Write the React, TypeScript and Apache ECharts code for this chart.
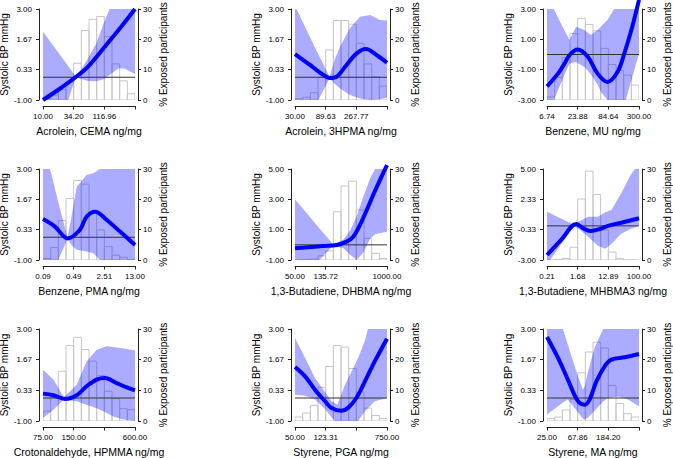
import React, { useEffect, useRef } from "react";
import * as echarts from "echarts";

const FONT = "'Liberation Sans', Arial, Helvetica, sans-serif";

// ---- texts ----
const xTitles = [
  "Acrolein, CEMA ng/mg",
  "Acrolein, 3HPMA ng/mg",
  "Benzene, MU ng/mg",
  "Benzene, PMA ng/mg",
  "1,3-Butadiene, DHBMA ng/mg",
  "1,3-Butadiene, MHBMA3 ng/mg",
  "Crotonaldehyde, HPMMA ng/mg",
  "Styrene, PGA ng/mg",
  "Styrene, MA ng/mg",
];
const xTickLabels = [
  ["10.00", "34.20", "116.96", ""],
  ["30.00", "89.63", "267.77", ""],
  ["6.74", "23.88", "84.64", "300.00"],
  ["0.09", "0.49", "2.51", "13.00"],
  ["50.00", "135.72", "", "1000.00"],
  ["0.21", "1.68", "12.89", "100.00"],
  ["75.00", "150.00", "", "600.00"],
  ["50.00", "123.31", "", "750.00"],
  ["25.00", "67.86", "184.20", ""],
];
const yTicks = [
  [-1, 0.3333, 1.6667, 3],
  [-1, 0.3333, 1.6667, 3],
  [-3, -1, 1, 3],
  [-1, 0.3333, 1.6667, 3],
  [-1, 1, 3, 5],
  [-3, -0.3333, 2.3333, 5],
  [-1, 0.3333, 1.6667, 3],
  [-1, 0.3333, 1.6667, 3],
  [-1, 0.3333, 1.6667, 3],
];
const pctTicks = [0, 10, 20, 30];
const leftTitle = "Systolic BP mmHg";
const rightTitle = "% Exposed participants";

// ---- histograms (% exposed participants, 12 bins per panel) ----
const hist1 = [0.5, 1.6, 3.5, 6, 12.1, 22.9, 26.6, 27.5, 20.9, 11.9, 6.3, 2.1];
const hist2 = [0.4, 0.9, 2.4, 7.5, 16.5, 26.2, 26.2, 25, 18.7, 11.9, 7.7, 4.6];
const hist3 = [1, 7.4, 14, 21.9, 26.9, 24.9, 22.8, 17, 11.7, 9.8, 8.2, 4.9];
const hist4 = [0.5, 4.1, 13, 20.3, 26.2, 25, 15.9, 9.9, 4.4, 1.6, 0.9, 0.2];
const hist5 = [0, 0.2, 0.3, 1.4, 3, 15.9, 24.4, 26, 16.5, 7.1, 2.2, 0.5];
const hist6 = [0, 0.2, 0.5, 4.2, 20.1, 29.3, 21.6, 9.9, 2.6, 0.5, 0, 0];
const hist7 = [3.2, 7.7, 16.2, 24.6, 27.3, 23.3, 19.5, 14.8, 9.7, 7.3, 4, 3.7];
const hist8 = [1.3, 2.6, 5.1, 11, 17.8, 24.6, 24.1, 17.1, 9.5, 4.2, 1.8, 0.8];
const hist9 = [0.8, 1.3, 3.6, 7, 15.7, 22.5, 25.7, 23.8, 11.6, 5.7, 2.4, 1.3];

// ---- fitted curves [tick position, mmHg] ----
const curve1 = [[0, -1], [0.5, -0.55], [1.06, 0], [1.47, 0.47], [2.0, 1.32], [2.55, 2.22], [3, 3]];
const curve2 = [[0, 1.02], [0.49, 0.54], [0.82, 0.2], [1.14, -0.03], [1.36, 0.03], [1.68, 0.54], [2.01, 1.05], [2.31, 1.24], [2.66, 0.98], [3, 0.64]];
const curve3 = [[0, -2.1], [0.36, -1.26], [0.57, -0.6], [0.75, 0], [1.0, 0.33], [1.33, -0.15], [1.65, -1.26], [1.97, -1.81], [2.3, -1.15], [2.51, 0], [2.78, 1.83], [3, 3.6]];
const curve4 = [[0, 0.8], [0.39, 0.47], [0.8, -0.05], [1.2, 0.32], [1.42, 0.9], [1.7, 1.12], [2.08, 0.76], [2.51, 0.25], [3, -0.34]];
const curve5 = [[0, -0.23], [0.92, -0.08], [1.36, -0.01], [1.68, 0.21], [1.9, 0.54], [2.12, 1.31], [2.34, 2.3], [2.55, 3.29], [2.77, 4.27], [3, 5.26]];
const curve6 = [[0, -2.56], [0.47, -1.2], [0.96, 0.17], [1.17, -0.2], [1.42, -0.45], [1.7, -0.3], [1.99, 0], [2.42, 0.28], [3, 0.67]];
const curve7 = [[0, 0.19], [0.34, 0.12], [0.72, -0.04], [1.1, 0.12], [1.42, 0.51], [1.75, 0.8], [2.02, 0.87], [2.4, 0.65], [2.73, 0.46], [3, 0.33]];
const curve8 = [[0, 1.35], [0.33, 0.94], [0.65, 0.36], [0.98, -0.14], [1.19, -0.43], [1.52, -0.55], [1.73, -0.43], [2.0, 0], [2.28, 0.72], [2.6, 1.59], [3, 2.58]];
const curve9 = [[0, 2.65], [0.36, 1.74], [0.68, 0.8], [1.01, -0.14], [1.23, -0.29], [1.39, -0.07], [1.61, 0.72], [1.88, 1.38], [2.1, 1.67], [2.53, 1.77], [3, 1.91]];

// ---- 95% confidence bands [tick position, lower, upper] ----
const band1 = [[0, -1, 2.0], [0.82, -1, 0.49], [1.07, -0.01, 0.02], [1.3, -0.1, 0.45], [1.47, -0.16, 0.83], [1.74, -0.18, 1.49], [2.0, -0.08, 2.44], [2.17, 0.1, 3], [2.45, 0.39, 3], [2.66, 0.39, 3], [3, 0.14, 3]];
const band2 = [[0, -1, 3], [0.05, -1, 3], [0.76, -1, 1.0], [1.13, -0.04, 0.02], [1.3, -0.3, 0.8], [1.47, -0.49, 1.34], [1.79, -0.78, 2.15], [2.12, -0.93, 2.66], [2.45, -1, 2.74], [2.77, -0.97, 2.52], [3, -0.9, 2.49]];
const band3 = [[0, -3, 3], [0.22, -3, 3], [0.5, -1.68, 1.87], [0.73, -0.6, 0.95], [0.95, -0.49, 1.83], [1.22, -0.82, 1.61], [1.43, -1.3, 1.28], [1.65, -2.0, 1.61], [1.76, -2.47, 1.85], [1.97, -3, 2.27], [2.19, -3, 3], [2.57, -3, 3], [3, 0.07, 3]];
const band4 = [[0, -1, 3], [0.23, -1, 3], [0.5, -1, 1.53], [0.8, -0.07, 0.0], [0.93, -0.34, 0.9], [1.1, -0.55, 2.22], [1.42, -0.63, 2.74], [1.64, -0.7, 2.81], [1.86, -1, 3], [3, -1, 3]];
const band5 = [[0, -1, 3.0], [0.8, -1, 1.08], [1.25, -0.02, 0.02], [1.58, -0.23, 0.35], [1.8, -0.65, 0.95], [2.01, -1, 1.86], [2.23, -0.5, 3.18], [2.45, 0.4, 4.38], [2.61, 0.7, 5], [3, 0.87, 5]];
const band6 = [[0, -3, 1.25], [0.1, -3, 1.12], [0.88, -0.02, 0.1], [1.05, -0.3, 0.4], [1.34, -0.95, 0.81], [1.66, -1.75, 0.81], [1.9, -2.0, 1.2], [2.1, -1.6, 1.4], [2.42, -0.7, 2.87], [2.7, -0.3, 4.33], [2.86, -0.15, 5], [3, 0.05, 5]];
const band7 = [[0, -0.87, 1.23], [0.34, -0.51, 0.8], [0.68, -0.07, 0.03], [1.1, -0.14, 0.58], [1.42, -0.29, 1.59], [1.75, -0.45, 2.1], [2.08, -0.65, 2.25], [2.29, -0.8, 2.22], [2.62, -0.94, 2.15], [3, -1, 2.06]];
const band8 = [[0, 0.14, 2.61], [0.33, 0.1, 1.74], [0.65, -0.05, 0.87], [0.98, -0.48, 0.26], [1.2, -0.85, -0.15], [1.3, -1, -0.22], [1.38, -1, -0.29], [1.63, -1, 0.58], [2.06, -1, 1.74], [2.28, -0.58, 2.5], [2.38, -0.45, 3], [2.6, -0.14, 3], [3, 0, 3]];
const band9 = [[0, -0.72, 3], [0.52, -0.2, 3], [0.68, -0.07, 2.32], [1.01, -0.62, 0.94], [1.17, -0.9, 0.36], [1.23, -0.94, 0.5], [1.34, -0.85, 1.16], [1.55, -0.55, 2.17], [1.83, -0.15, 3], [1.99, 0, 3], [2.32, 0.07, 3], [2.64, -0.07, 3], [3, -0.36, 3]];

const hists = [hist1, hist2, hist3, hist4, hist5, hist6, hist7, hist8, hist9];
const curves = [curve1, curve2, curve3, curve4, curve5, curve6, curve7, curve8, curve9];
const bands = [band1, band2, band3, band4, band5, band6, band7, band8, band9];

// ---- layout & style ----
const colLeft = [43, 295, 547];
const rowTop = [9, 169, 329];
const rowHeight = [91, 91, 92];
const PW = 92;
const BIN = 3 / 12;
const AXIS = "#222";
const TXT = "#000";
const BAND = "rgba(0,0,255,0.33)";

function buildOption() {
  const grid: any[] = [];
  const xAxis: any[] = [];
  const yAxis: any[] = [];
  const series: any[] = [];
  for (let i = 0; i < 9; i++) {
    const c = i % 3;
    const r = Math.floor(i / 3);
    grid.push({ left: colLeft[c], top: rowTop[r], width: PW, height: rowHeight[r], outerBoundsMode: "none", containLabel: false });
    const labels = xTickLabels[i];
    xAxis.push({
      gridIndex: i, type: "value", min: 0, max: 3, interval: 1, position: "bottom", offset: 6,
      axisLine: { show: true, onZero: false, lineStyle: { color: AXIS, width: 1 } },
      axisTick: { show: true, length: 3.5, lineStyle: { color: AXIS } },
      axisLabel: {
        fontSize: 8, color: TXT, margin: 6, fontFamily: FONT, showMinLabel: true, showMaxLabel: true, hideOverlap: false,
        formatter: (v: number) => labels[Math.round(v)] ?? "",
      },
      splitLine: { show: false },
      name: xTitles[i], nameLocation: "middle", nameGap: 19,
      nameTextStyle: { fontSize: 10.5, color: TXT, fontFamily: FONT },
    });
    const yt = yTicks[i];
    yAxis.push({
      gridIndex: i, type: "value", position: "left", min: yt[0], max: yt[yt.length - 1], offset: 4,
      axisLine: { show: true, onZero: false, lineStyle: { color: AXIS, width: 1 } },
      axisTick: { show: true, length: 3, customValues: yt, lineStyle: { color: AXIS } },
      axisLabel: {
        customValues: yt, fontSize: 8, color: TXT, margin: 7, fontFamily: FONT, showMinLabel: true, showMaxLabel: true,
        formatter: (v: number) => v.toFixed(2),
      },
      splitLine: { show: false },
      name: leftTitle, nameLocation: "middle", nameRotate: 90, nameGap: 29,
      nameTextStyle: { fontSize: 10, color: TXT, fontFamily: FONT },
    });
    yAxis.push({
      gridIndex: i, type: "value", position: "right", min: 0, max: 30, interval: 10, offset: 3,
      axisLine: { show: true, onZero: false, lineStyle: { color: AXIS, width: 1 } },
      axisTick: { show: true, length: 3, lineStyle: { color: AXIS } },
      axisLabel: {
        fontSize: 8, color: TXT, margin: 5, fontFamily: FONT, showMinLabel: true, showMaxLabel: true,
        formatter: (v: number) => (pctTicks.indexOf(v) >= 0 ? String(v) : ""),
      },
      splitLine: { show: false },
      name: rightTitle, nameLocation: "middle", nameRotate: 90, nameGap: 20,
      nameTextStyle: { fontSize: 10, color: TXT, fontFamily: FONT },
    });

    const band = bands[i];
    series.push({
      type: "custom", xAxisIndex: i, yAxisIndex: 2 * i + 1, silent: true, clip: true,
      data: hists[i].map((v, k) => [k * BIN, (k + 1) * BIN, v]),
      encode: { x: [0, 1], y: 2 },
      renderItem: (params: any, api: any) => {
        const a = api.coord([api.value(0), 0]);
        const b = api.coord([api.value(1), api.value(2)]);
        return {
          type: "rect",
          shape: { x: a[0], y: b[1], width: b[0] - a[0], height: a[1] - b[1] },
          style: { fill: "rgba(255,255,255,0)", stroke: "#c6c6c6", lineWidth: 1 },
        };
      },
    });
    series.push({
      type: "custom", xAxisIndex: i, yAxisIndex: 2 * i, silent: true, clip: true,
      data: band,
      encode: { x: 0, y: [1, 2] },
      renderItem: (params: any, api: any) => {
        if (params.dataIndex !== 0) return null;
        const up = band.map((p) => api.coord([p[0], p[2]]));
        const lo = band.slice().reverse().map((p) => api.coord([p[0], p[1]]));
        return { type: "polygon", shape: { points: up.concat(lo) }, style: { fill: BAND, stroke: "none" } };
      },
    });
    series.push({
      type: "line", xAxisIndex: i, yAxisIndex: 2 * i, silent: true, symbol: "none",
      data: [[0, 0], [3, 0]],
      lineStyle: { color: "#333", width: 1 },
    });
    series.push({
      type: "line", xAxisIndex: i, yAxisIndex: 2 * i, silent: true, symbol: "none", clip: false,
      smooth: 0.35,
      data: curves[i],
      lineStyle: { color: "#0000ff", width: 4 },
    });
  }
  return {
    animation: false,
    backgroundColor: "#ffffff",
    textStyle: { fontFamily: FONT },
    grid, xAxis, yAxis, series,
  };
}

export default function App() {
  const ref = useRef<HTMLDivElement>(null);
  useEffect(() => {
    if (!ref.current) return;
    const chart = echarts.init(ref.current, undefined, { renderer: "svg" });
    chart.setOption(buildOption() as any);
    return () => chart.dispose();
  }, []);
  return <div ref={ref} style={{ position: "absolute", left: 0, top: 0, width: 673, height: 458 }} />;
}
